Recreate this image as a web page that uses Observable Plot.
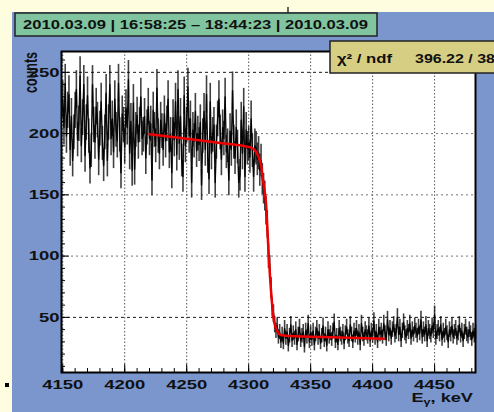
<!DOCTYPE html>
<html><head><meta charset="utf-8">
<script src="https://cdn.jsdelivr.net/npm/d3@7"></script>
<script src="https://cdn.jsdelivr.net/npm/@observablehq/plot@0.6"></script>
<style>
html,body{margin:0;padding:0;background:#fffde0;}
#wrap{position:relative;width:494px;height:412px;overflow:hidden;background:#fffde0;font-family:"Liberation Sans",Arial,sans-serif;}
#blue{position:absolute;left:12px;top:12px;width:482px;height:400px;background:#7a96cc;}
#plot{position:absolute;left:0;top:0;}
#over{position:absolute;left:0;top:0;}
</style></head><body>
<div id="wrap"><div id="blue"></div><div id="plot"></div>
<svg id="over" width="494" height="412" font-family="Liberation Sans, Arial, sans-serif" font-weight="bold">
  <line x1="288" y1="7" x2="288" y2="13" stroke="#000" stroke-width="1.2"/>
  <rect x="5" y="383" width="4" height="4" fill="#000"/>
  <rect x="15" y="13" width="362" height="23" fill="#80c4a0" stroke="#222" stroke-width="1.5"/>
  <text id="title" x="23" y="29" font-size="13" fill="#111" textLength="345" lengthAdjust="spacingAndGlyphs"></text>
  <rect x="330" y="41" width="170" height="32" fill="#d6ce82" stroke="#222" stroke-width="1.5"/>
  <text id="statL" x="337" y="63" font-size="12" fill="#111" textLength="55" lengthAdjust="spacingAndGlyphs"></text>
  <text id="statR" x="415" y="63" font-size="12" fill="#111" textLength="80" lengthAdjust="spacingAndGlyphs"></text>
  <text id="ylab" transform="translate(37,52) scale(1.4,1) rotate(-90)" text-anchor="end" font-size="12.5" fill="#111"></text>
  <text id="xlab" transform="translate(473,402) scale(1.4,1)" text-anchor="end" font-size="13" fill="#111"></text>
</svg>
</div>
<script>
// ---- texts ----
const titleText = "2010.03.09 | 16:58:25 \u2013 18:44:23 | 2010.03.09";
const statName = "\u03c7\u00b2 / ndf";
const statValue = "396.22 / 38";
const yLabel = "counts";
const xLabelMain = "E";
const xLabelSub = "\u03b3";
const xLabelUnit = ", keV";

// ---- tick values ----
const xMajor = [4150, 4200, 4250, 4300, 4350, 4400, 4450];
const xMinor = [4150,4160,4170,4180,4190,4200,4210,4220,4230,4240,4250,4260,4270,4280,4290,4300,4310,4320,4330,4340,4350,4360,4370,4380,4390,4400,4410,4420,4430,4440,4450,4460,4470,4480];
const yMajor = [50, 100, 150, 200, 250];
const yMinor = [10,20,30,40,50,60,70,80,90,100,110,120,130,140,150,160,170,180,190,200,210,220,230,240,250,260];

// ---- histogram (1 keV bins) ----
const leftStart = 4150;
const leftCounts = [
228,205,241,198,219,232,187,214,178,201,
219,236,195,208,247,190,213,240,182,209,
231,198,172,186,240,207,193,222,211,179,
204,226,192,174,201,233,178,209,240,196,
212,185,228,203,194,241,199,168,216,207,
189,221,205,244,184,210,170,225,171,203,
215,193,207,230,196,199,214,180,205,222,
196,208,162,219,203,190,237,198,184,211,
202,187,216,194,208,228,185,199,168,213,
195,226,183,236,192,214,178,165,231,190,
207,238,198,212,160,203,194,218,186,200,
191,209,158,198,218,187,232,181,163,226,
184,199,207,160,193,212,228,201,179,205,
196,230,185,190,162,202,187,235,193,180,
205,189,160,166,211,184,222,165,203,188,
192,181,212,186,165,190];
const edgeStart = 4306;
const edgeCounts = [188,179,184,170,178,163,155,149,137,126,100,91,74,58,53,44,39,43,34,38,30];
const tailStart = 4327;
const tailCounts = [
36,29,41,33,38,27,35,44,31,37,
33,40,28,36,42,31,35,38,26,39,
34,45,30,37,32,39,28,36,41,33,
38,29,35,43,31,36,27,40,34,37,
32,39,46,30,35,28,41,36,33,38,
29,37,42,34,31,44,36,30,39,35,
41,33,38,28,45,36,32,40,37,34,
43,31,39,35,47,33,38,30,42,36,
39,34,45,37,32,48,36,41,33,40,
44,35,38,50,36,42,31,39,46,37,
34,41,38,45,33,40,36,43,39,35,
42,37,48,34,40,36,44,31,41,38,
35,43,39,52,33,38,41,36,44,32,
39,35,42,37,30,40,36,43,34,38,
41,33,37,44,35,39,31,38,42,36,
34,40,37,32,39,35,38];

// ---- fit curve ----
const fitE = [4220,4240,4260,4280,4295,4302,4306,4308,4310,4312,4314,4316,4318,4320,4322,4324,4326,4330,4360,4409];
const fitC = [199.5,197,194.5,192,190,188.5,185,181,174,159,143,104,72,50,41,37,35.5,35,34,32.5];

const bins = [];
leftCounts.forEach((c,i)=>bins.push({e:leftStart+i,c}));
edgeCounts.forEach((c,i)=>bins.push({e:edgeStart+i,c}));
tailCounts.forEach((c,i)=>bins.push({e:tailStart+i,c}));
const fit = fitE.map((e,i)=>({e, c:fitC[i]}));

const chart = Plot.plot({
  width: 494, height: 412,
  marginLeft: 61, marginRight: 19, marginTop: 51, marginBottom: 40,
  x: {domain: [4149, 4483]},
  y: {domain: [5, 267]},
  style: {background: "transparent", fontFamily: "Liberation Sans, Arial, sans-serif", fontWeight: "bold", overflow: "visible"},
  marks: [
    Plot.frame({fill: "white", stroke: "none"}),
    Plot.gridX(xMajor, {stroke: "#444", strokeOpacity: 0.9, strokeDasharray: "1.5,2"}),
    Plot.gridY(yMajor.filter(v => v === 50 || v === 250), {stroke: "#000", strokeOpacity: 0.9, strokeDasharray: "3,3"}),
    Plot.gridY(yMajor.filter(v => v !== 50 && v !== 250), {stroke: "#666", strokeOpacity: 0.9, strokeDasharray: "2,3"}),
    Plot.ruleX(bins, {x: "e", y1: d => d.c - Math.sqrt(d.c), y2: d => d.c + Math.sqrt(d.c), stroke: "#000", strokeOpacity: 0.75, strokeWidth: 1.6}),
    Plot.line(bins, {x: "e", y: "c", stroke: "#000", strokeOpacity: 0.95, strokeWidth: 1.4}),
    Plot.line(fit, {x: "e", y: "c", stroke: "#ee0000", strokeWidth: 2.5, curve: "monotone-x"}),
    Plot.axisY(yMinor, {anchor: "left", tickSize: 4, dx: 4, fill: "none", label: null, stroke: "#000"}),
    Plot.axisY(yMajor, {anchor: "left", tickSize: 8, dx: 8, fill: "none", label: null, stroke: "#000"}),
    Plot.axisX(xMinor, {anchor: "bottom", tickSize: 4, dy: -4, fill: "none", label: null, stroke: "#000"}),
    Plot.axisX(xMajor, {anchor: "bottom", tickSize: 8, dy: -8, fill: "none", label: null, stroke: "#000"}),
    Plot.axisY(yMajor, {anchor: "left", tickSize: 0, tickPadding: 2, label: null, fontSize: 13, fontWeight: "bold", fill: "#111", tickFormat: d => String(d)}),
    Plot.axisX(xMajor, {anchor: "bottom", tickSize: 0, tickPadding: 7, label: null, fontSize: 13, fontWeight: "bold", fill: "#111", tickFormat: d => String(d)}),
    Plot.frame({stroke: "#000", strokeWidth: 2})
  ]
});
document.getElementById("plot").appendChild(chart);

// stretch tick labels horizontally like the reference
chart.querySelectorAll('g[aria-label="x-axis tick label"] text, g[aria-label="y-axis tick label"] text').forEach(t => {
  const w = t.getComputedTextLength();
  t.setAttribute("textLength", (w * 1.42).toFixed(1));
  t.setAttribute("lengthAdjust", "spacingAndGlyphs");
});

document.getElementById("title").textContent = titleText;
document.getElementById("statL").textContent = statName;
document.getElementById("statR").textContent = statValue;
document.getElementById("ylab").textContent = yLabel;
const xl = document.getElementById("xlab");
const ns = "http://www.w3.org/2000/svg";
const t1 = document.createElementNS(ns, "tspan"); t1.textContent = xLabelMain;
const t2 = document.createElementNS(ns, "tspan"); t2.textContent = xLabelSub; t2.setAttribute("dy", "3"); t2.setAttribute("font-size", "9");
const t3 = document.createElementNS(ns, "tspan"); t3.textContent = xLabelUnit; t3.setAttribute("dy", "-3");
xl.append(t1, t2, t3);
</script>
</body></html>
